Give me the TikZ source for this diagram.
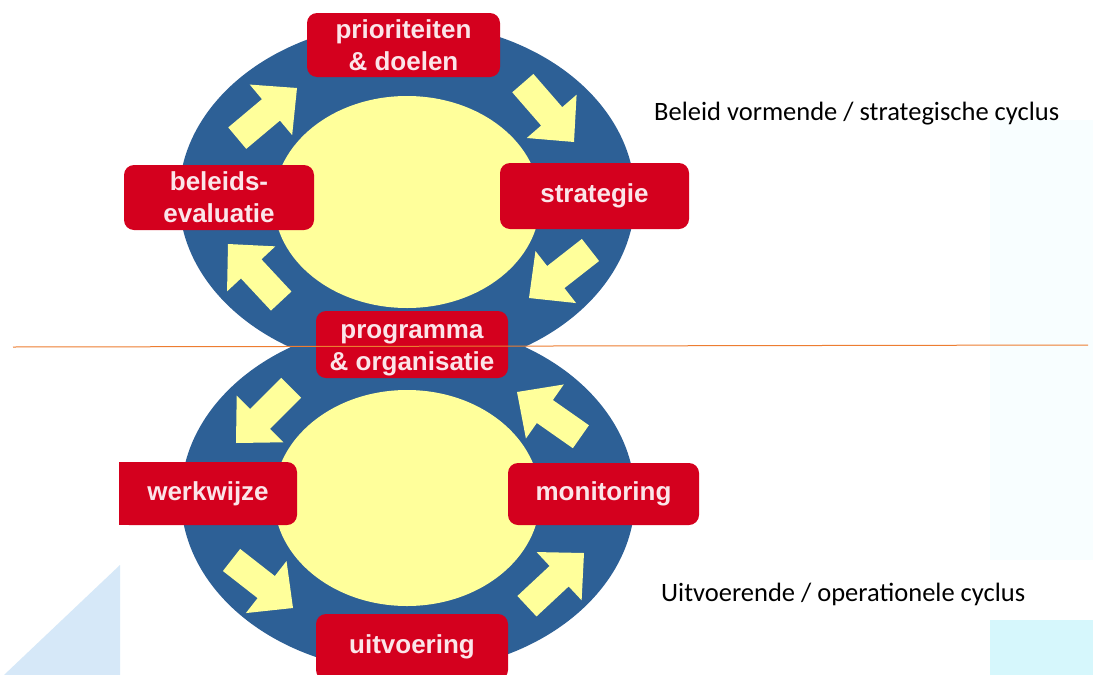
\documentclass[tikz,border=0pt]{standalone}
\usepackage{fontspec}
\setmainfont{Liberation Sans}
\newfontfamily\calibri{Carlito}
\definecolor{ringblauw}{RGB}{45,96,150}
\definecolor{kerngeel}{RGB}{255,255,155}
\definecolor{vakrood}{RGB}{212,0,30}
\definecolor{lijnoranje}{RGB}{237,125,49}
\definecolor{vlakblauw}{RGB}{214,232,248}
\definecolor{vlakcyaan}{RGB}{214,247,252}
\definecolor{waascyaan}{RGB}{248,254,255}
\def\cyclepijl(#1)(#2){\fill[kerngeel,shift={(#1)},rotate=#2] (0,0) -- (-34,-33) -- (-34,-14) -- (-78,-14) -- (-78,14) -- (-34,14) -- (-34,33) -- cycle;}
\tikzset{
  vaktekst/.style={text=white!90!vakrood, align=center, inner sep=0pt,
    font=\bfseries\fontsize{26}{32}\selectfont},
  vak/.style={vaktekst, fill=vakrood, rounded corners=10pt},
  cyclustekst/.style={anchor=west, inner sep=0pt, font=\calibri\fontsize{26.5}{30}\selectfont}
}
\begin{document}
\begin{tikzpicture}[x=1pt,y=-1pt]
			%%%%% START %%%%%
			\useasboundingbox (0,0) rectangle (1093,675);
			\fill[white] (0,0) rectangle (1093,675);
			
			% achtergrond
			\fill[waascyaan] (990,120) rectangle (1093,560);
			\fill[vlakcyaan] (990,620) rectangle (1093,675);
			\fill[vlakblauw] (120,565) -- (120,675) -- (4,675) -- cycle;
			
			% bovenste cyclus
			\fill[ringblauw] (407,197) ellipse [x radius=228pt, y radius=175pt];
			% onderste cyclus
			\fill[ringblauw] (408,497) ellipse [x radius=227pt, y radius=175pt];
			
			\fill[kerngeel] (407,202) ellipse [x radius=133pt, y radius=106pt];
			\fill[kerngeel] (407,498) ellipse [x radius=133pt, y radius=108pt];
			
			\cyclepijl(297,88)(40)
			\cyclepijl(574,142)(-49)
			\cyclepijl(529,298)(-142)
			\cyclepijl(228,244)(133)
			
			\cyclepijl(236,443)(-135)
			\cyclepijl(517,392)(145)
			\cyclepijl(293,608)(-38)
			\cyclepijl(584,553)(43)
			
			\node[vak, minimum width=193pt, minimum height=64pt] (doelen) at (403.5,45) {prioriteiten\\\& doelen};
			\node[vak, minimum width=190pt, minimum height=65pt] (evaluatie) at (219,197.5) {beleids-\\evaluatie};
			\node[vak, minimum width=189pt, minimum height=66pt] (strategie) at (594.5,196) {strategie};
			\node[vak, minimum width=192pt, minimum height=67pt] (programma) at (412,344.5) {};
			\node[vaktekst] (programmatekst) at ([yshift=-6pt]programma.center) {programma\\\& organisatie};
			\fill[vakrood] (119,462) rectangle (140,525);
			\node[vak, minimum width=178pt, minimum height=63pt] (werkwijze) at (208,493.5) {werkwijze};
			\node[vak, minimum width=191pt, minimum height=62pt] (monitoring) at (603.5,494) {monitoring};
			\node[vak, minimum width=192pt, minimum height=66pt] (uitvoering) at (412,647) {uitvoering};
			
			\draw[lijnoranje, line width=1pt] (13,347) -- (1088,345);
			
			\node[cyclustekst] (strategisch) at (654,114) {Beleid vormende / strategische cyclus};
			\node[cyclustekst] (operationeel) at (661,594) {Uitvoerende / operationele cyclus};
			%%%%% END %%%%%
\end{tikzpicture}
\end{document}
